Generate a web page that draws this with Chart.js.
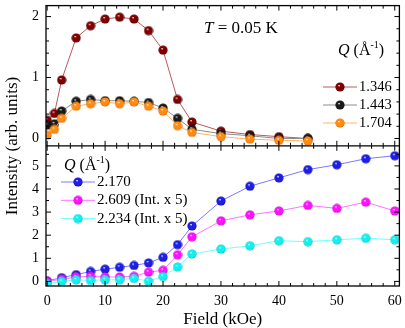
<!doctype html>
<html lang="en">
<head>
<meta charset="utf-8">
<title>Intensity vs Field</title>
<style>
  html, body { margin: 0; padding: 0; background: #fff; }
  #wrap { position: relative; width: 405px; height: 328px; }
</style>
</head>
<body>
<div id="wrap"><canvas id="chart" width="405" height="328"></canvas></div>
<script src="https://cdn.jsdelivr.net/npm/chart.js@4.4.0/dist/chart.umd.min.js"></script>
<script>
// ---- data ----
const fieldTop = [0, 1.25, 2.5, 5, 7.5, 10, 12.5, 15, 17.5, 20, 22.5, 25, 30, 35, 40, 45];
const q1346 = [0.30, 0.41, 0.96, 1.65, 1.85, 1.96, 1.99, 1.96, 1.77, 1.45, 0.64, 0.27, 0.12, 0.065, 0.03, 0.0];
const q1443 = [0.22, 0.24, 0.45, 0.61, 0.64, 0.62, 0.62, 0.61, 0.59, 0.50, 0.33, 0.15, 0.08, 0.045, 0.0, 0.0];
const q1704 = [0.055, 0.15, 0.33, 0.53, 0.57, 0.60, 0.57, 0.60, 0.53, 0.45, 0.21, 0.10, 0.03, -0.01, -0.03, -0.04];

const fieldBot = [0, 2.5, 5, 7.5, 10, 12.5, 15, 17.5, 20, 22.5, 25, 30, 35, 40, 45, 50, 55, 60];
const q2170 = [0.02, 0.16, 0.29, 0.43, 0.53, 0.61, 0.69, 0.80, 1.04, 1.59, 2.40, 3.48, 4.12, 4.48, 4.84, 5.05, 5.31, 5.44];
const q2609 = [0.0, 0.09, 0.19, 0.22, 0.19, 0.19, 0.22, 0.40, 0.48, 1.15, 1.93, 2.62, 2.88, 3.05, 3.29, 3.16, 3.43, 3.05];
const q2234 = [-0.1, 0.0, 0.07, 0.04, 0.07, 0.07, 0.13, 0.01, 0.21, 0.63, 1.19, 1.40, 1.54, 1.76, 1.72, 1.80, 1.87, 1.80];

const xTicks = [0, 10, 20, 30, 40, 50, 60];
const yTopTicks = [0, 1, 2];
const yBotTicks = [0, 1, 2, 3, 4, 5];

const FONT = "'Liberation Serif', 'Times New Roman', serif";

// shaded ball used as the point marker
function ball(color, edge) {
  const c = document.createElement('canvas');
  c.width = c.height = 10;
  const g = c.getContext('2d');
  const grd = g.createRadialGradient(4, 3.4, 0.2, 5, 5, 5);
  grd.addColorStop(0, '#ffffff');
  grd.addColorStop(0.22, color);
  grd.addColorStop(0.75, color);
  grd.addColorStop(1, edge);
  g.fillStyle = grd;
  g.beginPath();
  g.arc(5, 5, 4.6, 0, Math.PI * 2);
  g.fill();
  return c;
}

const topSeries = [
  { label: '1.346', x: fieldTop, y: q1346, ball: ball('#800000', '#300000'), line: '#b85a5a', order: 2 },
  { label: '1.443', x: fieldTop, y: q1443, ball: ball('#1a1a1a', '#000000'), line: '#8c8c8c', order: 1 },
  { label: '1.704', x: fieldTop, y: q1704, ball: ball('#ff8c10', '#c05000'), line: '#ffb466', order: 0 }
];
const botSeries = [
  { label: '2.170', x: fieldBot, y: q2170, ball: ball('#1e1ee6', '#00008a'), line: '#7a7aff', order: 2 },
  { label: '2.609 (Int. x 5)', x: fieldBot, y: q2609, ball: ball('#ff10ff', '#a000a0'), line: '#ff73ff', order: 1 },
  { label: '2.234 (Int. x 5)', x: fieldBot, y: q2234, ball: ball('#10f0f0', '#00a0a8'), line: '#70ffff', order: 0 }
];

function toDataset(s, axis) {
  return {
    label: s.label,
    data: s.x.map((v, i) => ({ x: v, y: s.y[i] })),
    yAxisID: axis,
    borderColor: s.line,
    borderWidth: 1,
    pointStyle: s.ball,
    pointRadius: 4.6,
    pointHoverRadius: 4.6,
    tension: 0,
    order: s.order
  };
}

function fixTicks(list) {
  return s => { s.ticks = list.map(v => ({ value: v })); };
}

// pin the axis box size and drop the label overhang padding
function fitTo(w, h) {
  return s => {
    if (w !== null) s.width = w;
    if (h !== null) s.height = h;
    s.paddingTop = 0; s.paddingBottom = 0; s.paddingLeft = 0; s.paddingRight = 0;
  };
}

const tickFont = { family: FONT, size: 14 };
const tickOpts = { font: tickFont, color: '#000', padding: 7, autoSkip: false, maxRotation: 0 };

// box, shared middle line and inward ticks on every side
const framePlugin = {
  id: 'frame',
  afterDraw(chart) {
    const { ctx, chartArea: a, scales } = chart;
    const mid = scales.yTop.bottom;
    const seg = (x1, y1, x2, y2) => { ctx.beginPath(); ctx.moveTo(x1, y1); ctx.lineTo(x2, y2); ctx.stroke(); };
    ctx.save();
    ctx.strokeStyle = '#000';
    ctx.lineWidth = 1.3;
    ctx.strokeRect(a.left, a.top, a.right - a.left, a.bottom - a.top);
    seg(a.left, mid, a.right, mid);
    ctx.lineWidth = 1;
    for (let i = 0; i <= 30; i++) {
      const px = scales.x.getPixelForValue(i * 2);
      const L = i % 5 === 0 ? 5 : 3;
      seg(px, a.top, px, a.top + L);
      seg(px, mid, px, mid - L);
      seg(px, mid, px, mid + L);
      seg(px, a.bottom, px, a.bottom - L);
    }
    for (let i = 0; i <= 10; i++) {
      const py = scales.yTop.getPixelForValue(i * 0.2);
      const L = i % 5 === 0 ? 5 : 3;
      seg(a.left, py, a.left + L, py);
      seg(a.right, py, a.right - L, py);
    }
    for (let i = 0; i <= 11; i++) {
      const py = scales.yBot.getPixelForValue(i * 0.5);
      const L = i % 2 === 0 ? 5 : 3;
      seg(a.left, py, a.left + L, py);
      seg(a.right, py, a.right - L, py);
    }
    ctx.restore();
  }
};

function drawQTitle(ctx, x, y) {
  ctx.font = 'italic 16px ' + FONT;
  ctx.fillText('Q', x, y);
  x += ctx.measureText('Q').width;
  ctx.font = '16px ' + FONT;
  ctx.fillText(' (\u00C5', x, y);
  x += ctx.measureText(' (\u00C5').width;
  ctx.font = '10px ' + FONT;
  ctx.fillText('-1', x, y - 6);
  x += ctx.measureText('-1').width;
  ctx.font = '16px ' + FONT;
  ctx.fillText(')', x, y);
}

function drawLegend(ctx, list, x0, y0, step, size) {
  list.forEach((s, i) => {
    const y = y0 + i * step;
    ctx.strokeStyle = s.line;
    ctx.lineWidth = 1;
    ctx.beginPath(); ctx.moveTo(x0, y); ctx.lineTo(x0 + 34, y); ctx.stroke();
    ctx.drawImage(s.ball, x0 + 17 - 5, y - 5);
    ctx.fillStyle = '#000';
    ctx.font = size + 'px ' + FONT;
    ctx.fillText(s.label, x0 + 36, y);
  });
}

const notesPlugin = {
  id: 'notes',
  afterDraw(chart) {
    const ctx = chart.ctx;
    ctx.save();
    ctx.fillStyle = '#000';
    ctx.textBaseline = 'middle';
    ctx.textAlign = 'left';

    // T = 0.05 K
    ctx.font = 'italic 17px ' + FONT;
    ctx.fillText('T', 204, 29);
    const w = ctx.measureText('T').width;
    ctx.font = '17px ' + FONT;
    ctx.fillText(' = 0.05 K', 204 + w, 29);

    drawQTitle(ctx, 338, 51);
    drawLegend(ctx, topSeries, 323, 87, 18, 14.5);

    drawQTitle(ctx, 64, 166);
    drawLegend(ctx, botSeries, 61, 182, 18.3, 15);

    // shared y title
    ctx.translate(13, 146);
    ctx.rotate(-Math.PI / 2);
    ctx.textAlign = 'center';
    ctx.font = '17px ' + FONT;
    ctx.fillText('Intensity (arb. units)', 0, 0);
    ctx.restore();
  }
};

new Chart(document.getElementById('chart'), {
  type: 'line',
  data: {
    datasets: [
      ...topSeries.map(s => toDataset(s, 'yTop')),
      ...botSeries.map(s => toDataset(s, 'yBot'))
    ]
  },
  options: {
    responsive: false,
    animation: false,
    events: [],
    layout: { padding: { left: 0, right: 2, top: 3, bottom: 0 } },
    plugins: { legend: { display: false }, tooltip: { enabled: false } },
    scales: {
      x: {
        type: 'linear',
        min: -0.2,
        max: 60.8,
        afterBuildTicks: fixTicks(xTicks),
        grid: { display: false, drawTicks: false },
        border: { display: false },
        ticks: tickOpts,
        title: { display: true, text: 'Field (kOe)', color: '#000', padding: 0, font: { family: FONT, size: 17, lineHeight: 1 } },
        afterFit: fitTo(null, 42)
      },
      yBot: {
        type: 'linear',
        position: 'left',
        stack: 'panels',
        stackWeight: 1,
        min: -0.2,
        max: 5.87,
        afterBuildTicks: fixTicks(yBotTicks),
        grid: { display: false, drawTicks: false },
        border: { display: false },
        ticks: tickOpts,
        afterFit: fitTo(46, null)
      },
      yTop: {
        type: 'linear',
        position: 'left',
        stack: 'panels',
        stackWeight: 1,
        min: -0.12,
        max: 2.18,
        afterBuildTicks: fixTicks(yTopTicks),
        grid: { display: false, drawTicks: false },
        border: { display: false },
        ticks: tickOpts,
        afterFit: fitTo(46, null)
      }
    }
  },
  plugins: [framePlugin, notesPlugin]
});
</script>
</body>
</html>
